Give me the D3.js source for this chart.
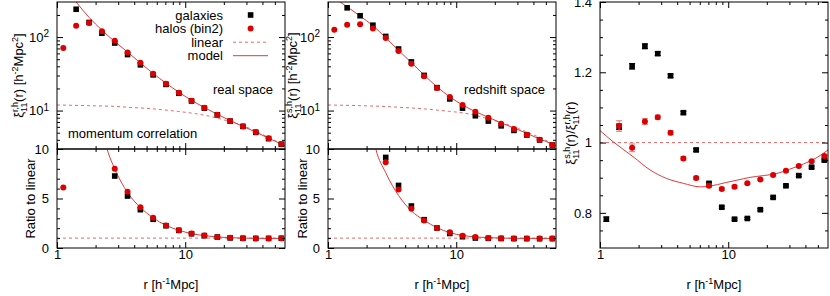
<!DOCTYPE html>
<html>
<head>
<meta charset="UTF-8">
<title>Momentum correlation</title>
<style>
	body{margin:0;background:#fff;}
	svg{display:block;font-family:"Liberation Sans",Arial,Helvetica,sans-serif;}
	.frame{fill:none;stroke:#000;stroke-width:1;}
	.lbl{font-size:13px;fill:#000;}
</style>
</head>
<body>
<svg width="830" height="296"></svg>
<script src="https://cdn.jsdelivr.net/npm/d3@7"></script>
<script>
// r bins [h^-1 Mpc]
var rBins = [1.12, 1.41, 1.78, 2.24, 2.82, 3.55, 4.47, 5.62, 7.08, 8.91, 11.2, 14.1, 17.8, 22.4, 28.2, 35.5, 44.7, 56.2];

// xi_11 real / redshift space (h^-2 Mpc^2)
var galReal      = [null, 239, 158, 113, 83, 57.8, 41.9, 30.6, 22.7, 17.2, 13.5, 10.8, 8.75, 7.19, 6.08, 5.05, 4.15, 3.48];
var haloReal     = [71, 143, 155, 120, 89, 61.5, 44.6, 31.6, 23.2, 17.5, 13.6, 10.9, 8.8, 7.2, 6.1, 5.1, 4.2, 3.5];
var galRedshift  = [null, 250, 195, 145, 102, 68.8, 45.9, 30.1, 20.5, 14.4, 10.8, 8.5, 7.2, 6.2, 5.37, 4.65, 3.98, 3.4];
var haloRedshift = [126, 147, 150, 131, 96.8, 64.7, 43.2, 29.4, 20.3, 15.3, 11.9, 9.6, 8.0, 6.6, 5.6, 4.7, 4.0, 3.4];

// ratio to linear
var galRatioReal      = [null, null, null, null, 7.27, 5.25, 3.87, 2.9, 2.25, 1.78, 1.44, 1.25, 1.11, 1.02, 0.98, 0.97, 0.97, 0.98];
var haloRatioReal     = [6.1, null, null, null, 8.0, 5.69, 4.11, 3.06, 2.28, 1.8, 1.46, 1.26, 1.12, 1.03, 0.99, 0.97, 0.97, 0.98];
var galRatioRedshift  = [null, null, null, null, 9.15, 6.32, 4.24, 2.86, 2.02, 1.47, 1.14, 1.01, 0.98, 0.96, 0.95, 0.95, 0.94, 0.95];
var haloRatioRedshift = [null, null, null, null, 8.65, 5.92, 3.97, 2.79, 2.02, 1.58, 1.24, 1.11, 1.02, 0.99, 0.97, 0.96, 0.95, 0.96];

// redshift / real
var galSR     = [0.782, 1.045, 1.217, 1.274, 1.253, 1.19, 1.085, 0.979, 0.884, 0.816, 0.782, 0.784, 0.809, 0.844, 0.877, 0.906, 0.93, 0.95];
var galSRErr  = [0.006, 0.008, 0.008, 0.007, 0.005, 0.005, 0.004, 0.004, 0.003, 0.003, 0.003, 0.003, 0.003, 0.003, 0.003, 0.003, 0.003, 0.003];
var haloSR    = [null, 1.047, 0.985, 1.06, 1.072, 1.028, 0.955, 0.899, 0.877, 0.868, 0.874, 0.884, 0.895, 0.908, 0.92, 0.933, 0.947, 0.962];
var haloSRErr = [null, 0.015, 0.011, 0.008, 0.006, 0.006, 0.005, 0.005, 0.004, 0.004, 0.004, 0.003, 0.003, 0.003, 0.003, 0.003, 0.003, 0.003];

// curves
var linR        = [1, 2, 2.82, 3.55, 4.47, 5.62, 7.08, 8.91, 11.2, 14.1, 17.8, 22.4, 28.2, 35.5, 44.7, 56.2, 60];
var linReal     = [11.9, 11.6, 11.4, 11.1, 10.85, 10.55, 10.15, 9.7, 9.25, 8.65, 7.9, 7.05, 6.2, 5.25, 4.3, 3.55, 3.35];
var linRedshift = [11.9, 11.6, 11.35, 11.1, 10.85, 10.55, 10.15, 9.75, 9.3, 8.6, 7.7, 6.85, 6.0, 5.1, 4.3, 3.55, 3.35];

var modelRealR    = [1.3, 1.41, 1.78, 2.24, 2.82, 3.55, 4.47, 5.62, 7.08, 8.91, 11.2, 14.1, 17.8, 22.4, 28.2, 35.5, 44.7, 56.2, 60];
var modelReal     = [360, 300, 185, 124, 87, 62.5, 44.5, 32, 23.6, 17.8, 13.8, 11.0, 8.9, 7.3, 6.1, 5.1, 4.2, 3.5, 3.3];
var modelRedshiftR= [1.15, 1.41, 1.78, 2.24, 2.82, 3.55, 4.47, 5.62, 7.08, 8.91, 11.2, 14.1, 17.8, 22.4, 28.2, 35.5, 44.7, 56.2, 60];
var modelRedshift = [330, 258, 193, 143, 98, 66, 45, 30.5, 21, 15.4, 11.9, 9.7, 8.1, 6.8, 5.8, 4.9, 4.1, 3.5, 3.3];

var mRatioRealR     = [2.2, 2.46, 2.82, 3.55, 4.47, 5.62, 7.08, 8.91, 11.2, 14.1, 17.8, 22.4, 28.2, 35.5, 44.7, 56.2, 60];
var mRatioReal      = [12.8, 10, 8.0, 5.6, 4.1, 3.05, 2.28, 1.8, 1.45, 1.25, 1.11, 1.04, 1.0, 0.98, 0.97, 0.97, 0.97];
var mRatioRedshiftR = [2.2, 2.36, 2.82, 3.55, 4.47, 5.62, 7.08, 8.91, 11.2, 14.1, 17.8, 22.4, 28.2, 35.5, 44.7, 56.2, 60];
var mRatioRedshift  = [11.8, 10, 7.6, 5.3, 3.75, 2.8, 2.05, 1.55, 1.27, 1.12, 1.05, 1.0, 0.98, 0.97, 0.97, 0.97, 0.97];

var mSRR = [1, 1.27, 1.81, 2.46, 3.3, 4.47, 6.05, 7.2, 9.5, 11.7, 14.8, 18.8, 24, 30, 38.6, 49.5, 60];
var mSR  = [1.034, 1.002, 0.96, 0.922, 0.898, 0.884, 0.874, 0.876, 0.886, 0.893, 0.901, 0.906, 0.912, 0.924, 0.939, 0.958, 0.979];

var xMajor = [1, 10], xMinor = [2, 3, 4, 5, 6, 7, 8, 9, 20, 30, 40, 50];
var logMajor = [10, 100], logMinor = [4, 5, 6, 7, 8, 9, 20, 30, 40, 50, 60, 70, 80, 90, 200];
var ratioMajor = [0, 5, 10], ratioMinor = [1, 2, 3, 4, 6, 7, 8, 9];
var srMajor = [0.8, 1, 1.2, 1.4], srMinor = [0.75, 0.85, 0.9, 0.95, 1.05, 1.1, 1.15, 1.25, 1.3, 1.35];

var RED = "#dd0000", LINE = "#e03a3a", FONT = '"Liberation Sans", Arial, sans-serif';
var svg = d3.select("svg");

function axis(g, gen, tr, vals, size, fmt, pad){
	var a = g.append("g").attr("transform", tr)
		.call(gen.tickValues(vals).tickSize(size).tickPadding(pad || 0).tickFormat(fmt || ""));
	a.attr("font-family", FONT).attr("font-size", 13);
	a.select(".domain").remove();
	a.selectAll("line").attr("stroke", "#000");
	a.selectAll("text").attr("fill", "#000");
	return a;
}

function frame(g, x, y, maj, min, o){
	var x0 = x.range()[0], x1 = x.range()[1], yb = y.range()[0], yt = y.range()[1];
	axis(g, d3.axisBottom(x), "translate(0," + yb + ")", xMajor, -6, o.xLab ? function(d){ return d; } : "", 2);
	axis(g, d3.axisBottom(x), "translate(0," + yb + ")", xMinor, -3);
	axis(g, d3.axisTop(x), "translate(0," + yt + ")", xMajor, -6);
	axis(g, d3.axisTop(x), "translate(0," + yt + ")", xMinor, -3);
	var yl = axis(g, d3.axisLeft(y), "translate(" + x0 + ",0)", maj, -6, o.yFmt || function(d){ return d; }, 8);
	axis(g, d3.axisLeft(y), "translate(" + x0 + ",0)", min, -3);
	axis(g, d3.axisRight(y), "translate(" + x1 + ",0)", maj, -6);
	axis(g, d3.axisRight(y), "translate(" + x1 + ",0)", min, -3);
	if (o.sup) {
		yl.selectAll("text").each(function(d){
			var t = d3.select(this);
			t.text("10");
			t.append("tspan").attr("dy", "-0.45em").attr("font-size", "10px").text(Math.round(Math.log10(d)));
		});
	}
	g.append("rect").attr("class", "frame")
		.attr("x", x0).attr("y", yt).attr("width", x1 - x0).attr("height", yb - yt);
}

var clipN = 0;
function clip(g, x, y){
	var id = "c" + (clipN++);
	g.append("clipPath").attr("id", id).append("rect")
		.attr("x", x.range()[0]).attr("y", y.range()[1])
		.attr("width", x.range()[1] - x.range()[0]).attr("height", y.range()[0] - y.range()[1]);
	return g.append("g").attr("clip-path", "url(#" + id + ")");
}

function curve(g, x, y, rs, vs, dash){
	var pts = rs.map(function(r, i){ return [r, vs[i]]; });
	g.append("path").datum(pts)
		.attr("fill", "none").attr("stroke", dash ? "#e86a6a" : LINE).attr("stroke-width", 1)
		.attr("stroke-dasharray", dash ? "3,3" : null)
		.attr("d", d3.line().curve(d3.curveMonotoneX)
			.x(function(d){ return x(d[0]); }).y(function(d){ return y(d[1]); }));
}

function unity(g, x, y){
	g.append("path").datum(x.domain())
		.attr("fill", "none").attr("stroke", "#e86a6a").attr("stroke-dasharray", "3,3")
		.attr("d", d3.line().x(function(d){ return x(d); }).y(function(){ return y(1); }));
}

function points(g, x, y, vals, kind, errs){
	var pts = rBins.map(function(r, i){ return {r: r, v: vals[i], e: errs ? errs[i] : null}; })
		.filter(function(d){ return d.v != null; });
	if (errs) {
		var eb = g.append("g").attr("stroke", kind == "sq" ? "#000" : "#e87070").attr("stroke-width", 1);
		pts.forEach(function(d){
			var cx = x(d.r), ya = y(d.v - d.e), yb = y(d.v + d.e);
			eb.append("line").attr("x1", cx).attr("x2", cx).attr("y1", ya).attr("y2", yb);
			eb.append("line").attr("x1", cx - 3).attr("x2", cx + 3).attr("y1", ya).attr("y2", ya);
			eb.append("line").attr("x1", cx - 3).attr("x2", cx + 3).attr("y1", yb).attr("y2", yb);
		});
	}
	if (kind == "sq") {
		g.selectAll(null).data(pts).enter().append("rect")
			.attr("x", function(d){ return x(d.r) - 2.8; }).attr("y", function(d){ return y(d.v) - 2.8; })
			.attr("width", 5.6).attr("height", 5.6).attr("fill", "#000");
	} else {
		g.selectAll(null).data(pts).enter().append("circle")
			.attr("cx", function(d){ return x(d.r); }).attr("cy", function(d){ return y(d.v); })
			.attr("r", 3).attr("fill", RED);
	}
}

// xi with stacked super/subscript
function xiPart(t, sup, sub){
	t.append("tspan").text("ξ");
	var s1 = t.append("tspan").attr("font-size", "9px").attr("dy", -5).text(sup);
	var w1 = s1.node().getComputedTextLength();
	var s2 = t.append("tspan").attr("font-size", "9px").attr("dx", -w1).attr("dy", 9).text(sub);
	var w2 = s2.node().getComputedTextLength();
	return Math.max(0, w1 - w2);
}

function ylabelXi(x, y, sp){
	var t = svg.append("text").attr("class", "lbl").attr("text-anchor", "middle")
		.attr("transform", "translate(" + x + "," + y + ") rotate(-90)");
	var dx = xiPart(t, sp + ",h", "11");
	t.append("tspan").attr("dx", dx).attr("dy", -4).text("(r) [h");
	t.append("tspan").attr("font-size", "9px").attr("dy", -5).text("-2");
	t.append("tspan").attr("dy", 5).text("Mpc");
	t.append("tspan").attr("font-size", "9px").attr("dy", -5).text("2");
	t.append("tspan").attr("dy", 5).text("]");
}

function xlabel(cx){
	var t = svg.append("text").attr("class", "lbl").attr("text-anchor", "middle")
		.attr("x", cx).attr("y", 289);
	t.append("tspan").text("r [h");
	t.append("tspan").attr("font-size", "9px").attr("dy", -5).text("-1");
	t.append("tspan").attr("dy", 5).text("Mpc]");
}

function rotText(x, y, s){
	svg.append("text").attr("class", "lbl").attr("text-anchor", "middle")
		.attr("transform", "translate(" + x + "," + y + ") rotate(-90)").text(s);
}

function column(x0, x1, gal, halo, lin, mR, mV, galRat, haloRat, mRR, mRV){
	var x = d3.scaleLog().domain([1, 60]).range([x0, x1]);
	var yT = d3.scaleLog().domain([3, 300]).range([149, 2]);
	var yB = d3.scaleLinear().domain([0, 10]).range([248, 149]);
	var g = svg.append("g");

	var c1 = clip(g, x, yT);
	curve(c1, x, yT, linR, lin, true);
	curve(c1, x, yT, mR, mV, false);
	points(c1, x, yT, gal, "sq");
	points(c1, x, yT, halo, "ci");
	frame(g, x, yT, logMajor, logMinor, {sup: true});

	var c2 = clip(g, x, yB);
	unity(c2, x, yB);
	curve(c2, x, yB, mRR, mRV, false);
	points(c2, x, yB, galRat, "sq");
	points(c2, x, yB, haloRat, "ci");
	frame(g, x, yB, ratioMajor, ratioMinor, {xLab: true});

	xlabel((x0 + x1) / 2);
}

column(57, 285, galReal, haloReal, linReal, modelRealR, modelReal,
	galRatioReal, haloRatioReal, mRatioRealR, mRatioReal);
ylabelXi(23, 75.5, "r");
rotText(35, 198.5, "Ratio to linear");

column(328, 556, galRedshift, haloRedshift, linRedshift, modelRedshiftR, modelRedshift,
	galRatioRedshift, haloRatioRedshift, mRatioRedshiftR, mRatioRedshift);
ylabelXi(297, 75.5, "s");
rotText(307, 198.5, "Ratio to linear");

// right panel: redshift / real
(function(){
	var x = d3.scaleLog().domain([1, 60]).range([600, 828]);
	var y = d3.scaleLinear().domain([0.7, 1.4]).range([248, 2]);
	var g = svg.append("g");
	var c = clip(g, x, y);
	unity(c, x, y);
	curve(c, x, y, mSRR, mSR, false);
	points(c, x, y, galSR, "sq", galSRErr);
	points(c, x, y, haloSR, "ci", haloSRErr);
	frame(g, x, y, srMajor, srMinor, {xLab: true, yFmt: function(d){ return d == 1 ? "1" : d3.format(".1f")(d); }});
	xlabel(714);

	var t = svg.append("text").attr("class", "lbl").attr("text-anchor", "middle")
		.attr("transform", "translate(575,133) rotate(-90)");
	var dx = xiPart(t, "s,h", "11");
	t.append("tspan").attr("dx", dx).attr("dy", -4).text("(r)/");
	var dx2 = xiPart(t, "r,h", "11");
	t.append("tspan").attr("dx", dx2).attr("dy", -4).text("(r)");
})();

// legend and notes (left column)
var legend = svg.append("g").attr("class", "lbl");
var rows = ["galaxies", "halos (bin2)", "linear", "model"];
legend.selectAll("text").data(rows).enter().append("text")
	.attr("x", 223).attr("y", function(d, i){ return 19.5 + i * 13.5; })
	.attr("text-anchor", "end").text(function(d){ return d; });
legend.append("rect").attr("x", 247.8).attr("y", 12.2).attr("width", 5.6).attr("height", 5.6).attr("fill", "#000");
legend.append("circle").attr("cx", 250.6).attr("cy", 28.6).attr("r", 3).attr("fill", RED);
legend.append("line").attr("x1", 233).attr("x2", 268).attr("y1", 42.2).attr("y2", 42.2)
	.attr("stroke", "#e86a6a").attr("stroke-dasharray", "3,3");
legend.append("line").attr("x1", 233).attr("x2", 268).attr("y1", 55.7).attr("y2", 55.7)
	.attr("stroke", LINE);

svg.append("text").attr("class", "lbl").attr("x", 273).attr("y", 94).attr("text-anchor", "end").text("real space");
svg.append("text").attr("class", "lbl").attr("x", 68).attr("y", 138).text("momentum correlation");
svg.append("text").attr("class", "lbl").attr("x", 545).attr("y", 94).attr("text-anchor", "end").text("redshift space");
</script>
</body>
</html>
